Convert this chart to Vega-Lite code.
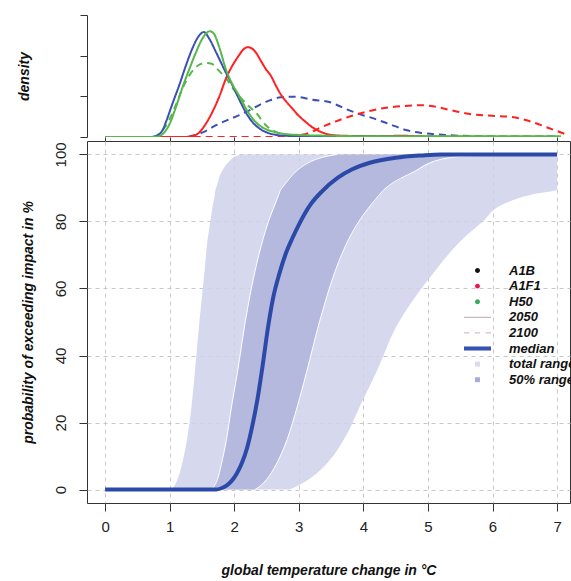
{
  "$schema": "https://vega.github.io/schema/vega-lite/v6.json",
  "background": "white",
  "padding": {"left": 17, "top": 14, "right": 0, "bottom": 0},
  "bounds": "flush",
  "spacing": 4,
  "config": {
    "font": "Liberation Sans",
    "view": {"stroke": null},
    "axis": {
      "labelFont": "Liberation Sans", "titleFont": "Liberation Sans",
      "titleFontStyle": "italic", "titleFontWeight": "bold", "titleFontSize": 14,
      "labelFontSize": 15, "labelColor": "#222", "titleColor": "#111",
      "domainColor": "#333", "tickColor": "#333", "grid": false
    }
  },
  "datasets": {
    "density": [
      {"scenario": "A1B", "year": "2100", "x": 0, "d": 0},
      {"scenario": "A1B", "year": "2100", "x": 1.2, "d": 0},
      {"scenario": "A1B", "year": "2100", "x": 1.4, "d": 0.05},
      {"scenario": "A1B", "year": "2100", "x": 1.55, "d": 0.14},
      {"scenario": "A1B", "year": "2100", "x": 1.72, "d": 0.29},
      {"scenario": "A1B", "year": "2100", "x": 1.9, "d": 0.42},
      {"scenario": "A1B", "year": "2100", "x": 2.07, "d": 0.53},
      {"scenario": "A1B", "year": "2100", "x": 2.25, "d": 0.67},
      {"scenario": "A1B", "year": "2100", "x": 2.38, "d": 0.78},
      {"scenario": "A1B", "year": "2100", "x": 2.55, "d": 0.9},
      {"scenario": "A1B", "year": "2100", "x": 2.69, "d": 0.97},
      {"scenario": "A1B", "year": "2100", "x": 2.9, "d": 0.99},
      {"scenario": "A1B", "year": "2100", "x": 3.05, "d": 0.97},
      {"scenario": "A1B", "year": "2100", "x": 3.2, "d": 0.92},
      {"scenario": "A1B", "year": "2100", "x": 3.47, "d": 0.86},
      {"scenario": "A1B", "year": "2100", "x": 3.6, "d": 0.78},
      {"scenario": "A1B", "year": "2100", "x": 3.73, "d": 0.69},
      {"scenario": "A1B", "year": "2100", "x": 3.93, "d": 0.57},
      {"scenario": "A1B", "year": "2100", "x": 4.19, "d": 0.44},
      {"scenario": "A1B", "year": "2100", "x": 4.4, "d": 0.32},
      {"scenario": "A1B", "year": "2100", "x": 4.66, "d": 0.17},
      {"scenario": "A1B", "year": "2100", "x": 4.91, "d": 0.1},
      {"scenario": "A1B", "year": "2100", "x": 5.27, "d": 0.05},
      {"scenario": "A1B", "year": "2100", "x": 5.7, "d": 0.02},
      {"scenario": "A1B", "year": "2100", "x": 6.2, "d": 0.01},
      {"scenario": "A1B", "year": "2100", "x": 7.0, "d": 0.01},
      {"scenario": "A1F1", "year": "2100", "x": 1.0, "d": 0},
      {"scenario": "A1F1", "year": "2100", "x": 2.5, "d": 0},
      {"scenario": "A1F1", "year": "2100", "x": 2.8, "d": 0.02},
      {"scenario": "A1F1", "year": "2100", "x": 3.1, "d": 0.07},
      {"scenario": "A1F1", "year": "2100", "x": 3.36, "d": 0.25},
      {"scenario": "A1F1", "year": "2100", "x": 3.67, "d": 0.44},
      {"scenario": "A1F1", "year": "2100", "x": 3.93, "d": 0.57},
      {"scenario": "A1F1", "year": "2100", "x": 4.24, "d": 0.69},
      {"scenario": "A1F1", "year": "2100", "x": 4.6, "d": 0.76},
      {"scenario": "A1F1", "year": "2100", "x": 4.91, "d": 0.78},
      {"scenario": "A1F1", "year": "2100", "x": 5.1, "d": 0.75},
      {"scenario": "A1F1", "year": "2100", "x": 5.27, "d": 0.69},
      {"scenario": "A1F1", "year": "2100", "x": 5.63, "d": 0.57},
      {"scenario": "A1F1", "year": "2100", "x": 6.0, "d": 0.52},
      {"scenario": "A1F1", "year": "2100", "x": 6.3, "d": 0.49},
      {"scenario": "A1F1", "year": "2100", "x": 6.61, "d": 0.37},
      {"scenario": "A1F1", "year": "2100", "x": 6.87, "d": 0.22},
      {"scenario": "A1F1", "year": "2100", "x": 7.13, "d": 0.07},
      {"scenario": "A1F1", "year": "2100", "x": 7.18, "d": 0.04},
      {"scenario": "H50", "year": "2100", "x": 0, "d": 0},
      {"scenario": "H50", "year": "2100", "x": 0.75, "d": 0},
      {"scenario": "H50", "year": "2100", "x": 0.85, "d": 0.1},
      {"scenario": "H50", "year": "2100", "x": 0.99, "d": 0.41},
      {"scenario": "H50", "year": "2100", "x": 1.1, "d": 0.8},
      {"scenario": "H50", "year": "2100", "x": 1.2, "d": 1.2},
      {"scenario": "H50", "year": "2100", "x": 1.32, "d": 1.55},
      {"scenario": "H50", "year": "2100", "x": 1.45, "d": 1.77},
      {"scenario": "H50", "year": "2100", "x": 1.55, "d": 1.82},
      {"scenario": "H50", "year": "2100", "x": 1.65, "d": 1.8},
      {"scenario": "H50", "year": "2100", "x": 1.75, "d": 1.65},
      {"scenario": "H50", "year": "2100", "x": 1.87, "d": 1.45},
      {"scenario": "H50", "year": "2100", "x": 2.0, "d": 1.15},
      {"scenario": "H50", "year": "2100", "x": 2.12, "d": 0.93},
      {"scenario": "H50", "year": "2100", "x": 2.23, "d": 0.75},
      {"scenario": "H50", "year": "2100", "x": 2.33, "d": 0.61},
      {"scenario": "H50", "year": "2100", "x": 2.49, "d": 0.29},
      {"scenario": "H50", "year": "2100", "x": 2.65, "d": 0.12},
      {"scenario": "H50", "year": "2100", "x": 2.85, "d": 0.05},
      {"scenario": "H50", "year": "2100", "x": 3.2, "d": 0.02},
      {"scenario": "H50", "year": "2100", "x": 7.0, "d": 0.01},
      {"scenario": "A1F1", "year": "2050", "x": 0, "d": 0},
      {"scenario": "A1F1", "year": "2050", "x": 1.2, "d": 0},
      {"scenario": "A1F1", "year": "2050", "x": 1.35, "d": 0.02},
      {"scenario": "A1F1", "year": "2050", "x": 1.45, "d": 0.1},
      {"scenario": "A1F1", "year": "2050", "x": 1.55, "d": 0.3},
      {"scenario": "A1F1", "year": "2050", "x": 1.66, "d": 0.61},
      {"scenario": "A1F1", "year": "2050", "x": 1.77, "d": 1.0},
      {"scenario": "A1F1", "year": "2050", "x": 1.87, "d": 1.43},
      {"scenario": "A1F1", "year": "2050", "x": 1.97, "d": 1.75},
      {"scenario": "A1F1", "year": "2050", "x": 2.07, "d": 2.0},
      {"scenario": "A1F1", "year": "2050", "x": 2.14, "d": 2.15},
      {"scenario": "A1F1", "year": "2050", "x": 2.21, "d": 2.21},
      {"scenario": "A1F1", "year": "2050", "x": 2.27, "d": 2.18},
      {"scenario": "A1F1", "year": "2050", "x": 2.33, "d": 2.09},
      {"scenario": "A1F1", "year": "2050", "x": 2.41, "d": 1.88},
      {"scenario": "A1F1", "year": "2050", "x": 2.49, "d": 1.67},
      {"scenario": "A1F1", "year": "2050", "x": 2.57, "d": 1.5},
      {"scenario": "A1F1", "year": "2050", "x": 2.64, "d": 1.28},
      {"scenario": "A1F1", "year": "2050", "x": 2.72, "d": 1.05},
      {"scenario": "A1F1", "year": "2050", "x": 2.8, "d": 0.88},
      {"scenario": "A1F1", "year": "2050", "x": 2.9, "d": 0.7},
      {"scenario": "A1F1", "year": "2050", "x": 3.0, "d": 0.52},
      {"scenario": "A1F1", "year": "2050", "x": 3.1, "d": 0.38},
      {"scenario": "A1F1", "year": "2050", "x": 3.2, "d": 0.25},
      {"scenario": "A1F1", "year": "2050", "x": 3.35, "d": 0.12},
      {"scenario": "A1F1", "year": "2050", "x": 3.47, "d": 0.06},
      {"scenario": "A1F1", "year": "2050", "x": 3.7, "d": 0.03},
      {"scenario": "A1F1", "year": "2050", "x": 4.2, "d": 0.02},
      {"scenario": "A1F1", "year": "2050", "x": 4.6, "d": 0.03},
      {"scenario": "A1F1", "year": "2050", "x": 5.0, "d": 0.01},
      {"scenario": "A1F1", "year": "2050", "x": 7.0, "d": 0},
      {"scenario": "A1B", "year": "2050", "x": 0, "d": 0},
      {"scenario": "A1B", "year": "2050", "x": 0.7, "d": 0},
      {"scenario": "A1B", "year": "2050", "x": 0.8, "d": 0.03},
      {"scenario": "A1B", "year": "2050", "x": 0.9, "d": 0.2},
      {"scenario": "A1B", "year": "2050", "x": 0.95, "d": 0.4},
      {"scenario": "A1B", "year": "2050", "x": 1.05, "d": 0.85},
      {"scenario": "A1B", "year": "2050", "x": 1.15, "d": 1.28},
      {"scenario": "A1B", "year": "2050", "x": 1.25, "d": 1.75},
      {"scenario": "A1B", "year": "2050", "x": 1.35, "d": 2.17},
      {"scenario": "A1B", "year": "2050", "x": 1.45, "d": 2.48},
      {"scenario": "A1B", "year": "2050", "x": 1.53, "d": 2.58},
      {"scenario": "A1B", "year": "2050", "x": 1.62, "d": 2.4},
      {"scenario": "A1B", "year": "2050", "x": 1.72, "d": 2.08},
      {"scenario": "A1B", "year": "2050", "x": 1.85, "d": 1.65},
      {"scenario": "A1B", "year": "2050", "x": 1.97, "d": 1.28},
      {"scenario": "A1B", "year": "2050", "x": 2.1, "d": 0.85},
      {"scenario": "A1B", "year": "2050", "x": 2.2, "d": 0.55},
      {"scenario": "A1B", "year": "2050", "x": 2.28, "d": 0.37},
      {"scenario": "A1B", "year": "2050", "x": 2.4, "d": 0.2},
      {"scenario": "A1B", "year": "2050", "x": 2.59, "d": 0.07},
      {"scenario": "A1B", "year": "2050", "x": 2.8, "d": 0.03},
      {"scenario": "A1B", "year": "2050", "x": 3.2, "d": 0.01},
      {"scenario": "A1B", "year": "2050", "x": 4.0, "d": 0.01},
      {"scenario": "A1B", "year": "2050", "x": 5.0, "d": 0},
      {"scenario": "A1B", "year": "2050", "x": 7.0, "d": 0},
      {"scenario": "H50", "year": "2050", "x": 0, "d": 0},
      {"scenario": "H50", "year": "2050", "x": 0.75, "d": 0},
      {"scenario": "H50", "year": "2050", "x": 0.85, "d": 0.03},
      {"scenario": "H50", "year": "2050", "x": 0.92, "d": 0.12},
      {"scenario": "H50", "year": "2050", "x": 0.99, "d": 0.29},
      {"scenario": "H50", "year": "2050", "x": 1.09, "d": 0.7},
      {"scenario": "H50", "year": "2050", "x": 1.19, "d": 1.18},
      {"scenario": "H50", "year": "2050", "x": 1.3, "d": 1.65},
      {"scenario": "H50", "year": "2050", "x": 1.41, "d": 2.09},
      {"scenario": "H50", "year": "2050", "x": 1.5, "d": 2.4},
      {"scenario": "H50", "year": "2050", "x": 1.58, "d": 2.57},
      {"scenario": "H50", "year": "2050", "x": 1.62, "d": 2.6},
      {"scenario": "H50", "year": "2050", "x": 1.68, "d": 2.55},
      {"scenario": "H50", "year": "2050", "x": 1.77, "d": 2.2},
      {"scenario": "H50", "year": "2050", "x": 1.87, "d": 1.67},
      {"scenario": "H50", "year": "2050", "x": 1.97, "d": 1.3},
      {"scenario": "H50", "year": "2050", "x": 2.07, "d": 1.03},
      {"scenario": "H50", "year": "2050", "x": 2.2, "d": 0.65},
      {"scenario": "H50", "year": "2050", "x": 2.33, "d": 0.37},
      {"scenario": "H50", "year": "2050", "x": 2.48, "d": 0.2},
      {"scenario": "H50", "year": "2050", "x": 2.64, "d": 0.12},
      {"scenario": "H50", "year": "2050", "x": 2.8, "d": 0.07},
      {"scenario": "H50", "year": "2050", "x": 3.0, "d": 0.05},
      {"scenario": "H50", "year": "2050", "x": 3.5, "d": 0.03},
      {"scenario": "H50", "year": "2050", "x": 4.0, "d": 0.02},
      {"scenario": "H50", "year": "2050", "x": 5.0, "d": 0.02},
      {"scenario": "H50", "year": "2050", "x": 7.06, "d": 0.02}
    ],
    "bands": [
      {"p": 0, "tl": 1.02, "tr": 2.85, "bl": 1.66, "br": 2.32},
      {"p": 1, "tl": 1.07, "tr": 2.97, "bl": 1.69, "br": 2.40},
      {"p": 3, "tl": 1.12, "tr": 3.15, "bl": 1.74, "br": 2.50},
      {"p": 7.5, "tl": 1.19, "tr": 3.42, "bl": 1.80, "br": 2.65},
      {"p": 15, "tl": 1.27, "tr": 3.70, "bl": 1.88, "br": 2.82},
      {"p": 25, "tl": 1.34, "tr": 3.95, "bl": 1.96, "br": 2.98},
      {"p": 35, "tl": 1.39, "tr": 4.20, "bl": 2.05, "br": 3.12},
      {"p": 50, "tl": 1.46, "tr": 4.55, "bl": 2.17, "br": 3.32},
      {"p": 65, "tl": 1.54, "tr": 5.10, "bl": 2.32, "br": 3.56},
      {"p": 75, "tl": 1.59, "tr": 5.55, "bl": 2.45, "br": 3.78},
      {"p": 80, "tl": 1.63, "tr": 5.85, "bl": 2.53, "br": 3.93},
      {"p": 85, "tl": 1.67, "tr": 6.15, "bl": 2.63, "br": 4.12},
      {"p": 88, "tl": 1.70, "tr": 6.60, "bl": 2.69, "br": 4.25},
      {"p": 89.5, "tl": 1.71, "tr": 7.0, "bl": 2.72, "br": 4.32},
      {"p": 90, "tl": 1.72, "tr": 7.0, "bl": 2.74, "br": 4.35},
      {"p": 95, "tl": 1.81, "tr": 7.0, "bl": 2.96, "br": 4.80},
      {"p": 98, "tl": 1.93, "tr": 7.0, "bl": 3.20, "br": 5.10},
      {"p": 99.5, "tl": 2.03, "tr": 7.0, "bl": 3.45, "br": 5.60},
      {"p": 100, "tl": 2.10, "tr": 7.0, "bl": 3.60, "br": 7.0}
    ],
    "median": [
      {"x": 0, "p": 0}, {"x": 1.72, "p": 0}, {"x": 1.8, "p": 0.4}, {"x": 1.88, "p": 1.2},
      {"x": 1.96, "p": 2.6}, {"x": 2.04, "p": 4.8}, {"x": 2.12, "p": 8}, {"x": 2.2, "p": 12.5},
      {"x": 2.28, "p": 19}, {"x": 2.36, "p": 27}, {"x": 2.44, "p": 37}, {"x": 2.52, "p": 48},
      {"x": 2.6, "p": 57}, {"x": 2.7, "p": 64.5}, {"x": 2.8, "p": 70.5}, {"x": 2.9, "p": 75},
      {"x": 3.0, "p": 79}, {"x": 3.18, "p": 85}, {"x": 3.36, "p": 89}, {"x": 3.6, "p": 93},
      {"x": 3.82, "p": 95.5}, {"x": 4.1, "p": 97.5}, {"x": 4.5, "p": 99}, {"x": 4.9, "p": 99.7},
      {"x": 5.2, "p": 100}, {"x": 7.0, "p": 100}
    ],
    "legend": [
      {"entry": "A1B"}, {"entry": "A1F1"}, {"entry": "H50"}, {"entry": "2050"},
      {"entry": "2100"}, {"entry": "median"}, {"entry": "total range"}, {"entry": "50% range"}
    ]
  },
  "vconcat": [
    {
      "width": 483,
      "height": 122,
      "data": {"name": "density"},
      "mark": {"type": "line", "strokeWidth": 2, "clip": true, "interpolate": "monotone"},
      "encoding": {
        "x": {
          "field": "x", "type": "quantitative",
          "scale": {"domain": [-0.28, 7.2], "nice": false, "zero": false},
          "axis": {"values": [0, 1, 2, 3, 4, 5, 6, 7], "labels": false, "domain": false, "tickSize": 6, "title": null}
        },
        "y": {
          "field": "d", "type": "quantitative",
          "scale": {"domain": [0, 3], "nice": false},
          "axis": {"values": [0, 1, 2, 3], "labels": false, "tickSize": 7, "title": "density", "titlePadding": 48}
        },
        "color": {
          "field": "scenario", "type": "nominal",
          "scale": {"domain": ["A1B", "A1F1", "H50"], "range": ["#3b4fb5", "#ff2020", "#55b848"]},
          "legend": null
        },
        "strokeDash": {
          "field": "year", "type": "nominal",
          "scale": {"domain": ["2050", "2100"], "range": [[1, 0], [7, 5]]},
          "legend": null
        }
      }
    },
    {
      "width": 483,
      "height": 362,
      "view": {"stroke": "#333", "strokeWidth": 1},
      "layer": [
        {
          "data": {"name": "bands"},
          "mark": {"type": "area", "color": "#cfd1eb", "opacity": 0.85, "clip": true, "interpolate": "monotone"},
          "encoding": {
            "y": {
              "field": "p", "type": "quantitative",
              "scale": {"domain": [-4, 104], "nice": false, "zero": false},
              "axis": {
                "values": [0, 20, 40, 60, 80, 100], "labelAngle": -90, "tickSize": 8,
                "labelPadding": 11, "grid": true, "gridColor": "#c8c8c8", "gridDash": [4, 4],
                "domain": false, "title": "probability of exceeding impact in %", "titlePadding": 18
              }
            },
            "x": {
              "field": "tl", "type": "quantitative",
              "scale": {"domain": [-0.28, 7.2], "nice": false, "zero": false},
              "axis": {
                "values": [0, 1, 2, 3, 4, 5, 6, 7], "format": "d", "tickSize": 8, "labelPadding": 8,
                "grid": true, "gridColor": "#c8c8c8", "gridDash": [4, 4], "domain": false,
                "title": "global temperature change in °C", "titlePadding": 29
              }
            },
            "x2": {"field": "tr"}
          }
        },
        {
          "data": {"name": "bands"},
          "mark": {"type": "area", "color": "#b0b4db", "opacity": 0.85, "clip": true, "interpolate": "monotone"},
          "encoding": {
            "y": {"field": "p", "type": "quantitative"},
            "x": {"field": "bl", "type": "quantitative"},
            "x2": {"field": "br"}
          }
        },
        {
          "data": {"name": "bands"},
          "mark": {"type": "line", "color": "white", "strokeWidth": 1, "clip": true, "interpolate": "monotone"},
          "encoding": {
            "y": {"field": "p", "type": "quantitative"},
            "x": {"field": "bl", "type": "quantitative"},
            "order": {"field": "p"}
          }
        },
        {
          "data": {"name": "bands"},
          "mark": {"type": "line", "color": "white", "strokeWidth": 1, "clip": true, "interpolate": "monotone"},
          "encoding": {
            "y": {"field": "p", "type": "quantitative"},
            "x": {"field": "br", "type": "quantitative"},
            "order": {"field": "p"}
          }
        },
        {
          "data": {"name": "median"},
          "mark": {"type": "line", "color": "#2b4aa8", "strokeWidth": 4, "clip": true, "interpolate": "monotone"},
          "encoding": {
            "y": {"field": "p", "type": "quantitative"},
            "x": {"field": "x", "type": "quantitative"},
            "order": {"field": "x"}
          }
        },
        {
          "data": {"name": "legend"},
          "mark": {"type": "point", "filled": true, "size": 0, "strokeWidth": 0},
          "encoding": {
            "shape": {
              "field": "entry", "type": "nominal",
              "scale": {
                "domain": ["A1B", "A1F1", "H50", "2050", "2100", "median", "total range", "50% range"],
                "range": [
                  "M-0.33,0A0.33,0.33,0,1,0,0.33,0A0.33,0.33,0,1,0,-0.33,0Z",
                  "M-0.33,0A0.33,0.33,0,1,0,0.33,0A0.33,0.33,0,1,0,-0.33,0Z",
                  "M-0.33,0A0.33,0.33,0,1,0,0.33,0A0.33,0.33,0,1,0,-0.33,0Z",
                  "M-1.8,-0.07H1.8V0.07H-1.8Z",
                  "M-1.8,-0.07H-1.1V0.07H-1.8ZM-0.35,-0.07H0.35V0.07H-0.35ZM1.1,-0.07H1.8V0.07H1.1Z",
                  "M-1.8,-0.27H1.8V0.27H-1.8Z",
                  "M-0.33,-0.33H0.33V0.33H-0.33Z",
                  "M-0.33,-0.33H0.33V0.33H-0.33Z"
                ]
              },
              "legend": {
                "orient": "none", "legendX": 383, "legendY": 248, "title": null,
                "symbolSize": 225, "symbolOpacity": 1, "symbolStrokeWidth": 0,
                "labelFont": "Liberation Sans", "labelFontSize": 13, "labelFontStyle": "italic",
                "labelFontWeight": "bold", "labelColor": "#111", "labelOffset": 24,
                "rowPadding": 0.6, "padding": 0
              }
            },
            "fill": {
              "field": "entry", "type": "nominal",
              "scale": {
                "domain": ["A1B", "A1F1", "H50", "2050", "2100", "median", "total range", "50% range"],
                "range": ["#111111", "#e8174d", "#3aaa5a", "#c9a8b0", "#d8c0c4", "#3552b0", "#d9dbf0", "#a9aed8"]
              },
              "legend": {
                "orient": "none", "legendX": 383, "legendY": 248, "title": null,
                "symbolSize": 225, "symbolOpacity": 1, "symbolStrokeWidth": 0,
                "labelFont": "Liberation Sans", "labelFontSize": 13, "labelFontStyle": "italic",
                "labelFontWeight": "bold", "labelColor": "#111", "labelOffset": 24,
                "rowPadding": 0.6, "padding": 0
              }
            }
          }
        }
      ]
    }
  ]
}
